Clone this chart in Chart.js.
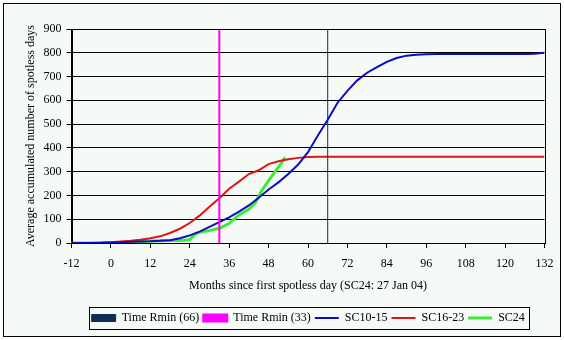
<!DOCTYPE html>
<html>
<head>
<meta charset="utf-8">
<script src="https://cdn.jsdelivr.net/npm/chart.js@4.4.0/dist/chart.umd.min.js"></script>
<style>
    body { margin: 0; background: #ffffff; }
    #wrap { width: 564px; height: 340px; }
</style>
</head>
<body>
<div id="wrap"><canvas id="myChart" width="564" height="340"></canvas></div>
<script>
// months since first spotless day
const mesesCiclo = [-12, -9, -6, -3, 0, 3, 6, 9, 12, 15, 18, 21, 24, 27, 30, 33, 36, 39, 42, 45, 48, 51, 54, 57, 60, 63, 66, 69, 72, 75, 78, 81, 84, 87, 90, 93, 96, 99, 102, 105, 108, 111, 114, 117, 120, 123, 126, 129, 132]
const dadosSC10_15 = [0, 0, 0, 1, 2, 3, 5, 6, 7, 9, 12, 20, 32, 48, 68, 88, 108, 132, 158, 190, 225, 255, 290, 330, 382, 452, 518, 590, 640, 684, 716, 740, 762, 778, 788, 792, 794, 795, 795, 795, 795, 795, 795, 795, 795, 795, 795, 796, 800]
const dadosSC16_23 = [0, 0, 0, 1, 3, 6, 9, 14, 20, 28, 42, 60, 84, 115, 152, 188, 228, 258, 290, 306, 332, 344, 352, 358, 362, 363, 363, 363, 363, 363, 363, 363, 363, 363, 363, 363, 363, 363, 363, 363, 363, 363, 363, 363, 363, 363, 363, 363, 363]

const mesesSC24 = [-12, -9, -6, -3, 0, 3, 6, 9, 12, 15, 18, 21, 24, 25, 26, 27, 30, 33, 36, 39, 42, 44, 46, 48, 50, 52, 53]
const dadosSC24 = [0, 0, 0, 0, 1, 2, 4, 6, 8, 9, 10, 11, 14, 28, 40, 45, 52, 62, 82, 118, 142, 170, 222, 262, 300, 338, 360]

const tempoRmin66 = 66
const tempoRmin33 = 33
const xTicks = [-12, 0, 12, 24, 36, 48, 60, 72, 84, 96, 108, 120, 132]
const yTicks = [0, 100, 200, 300, 400, 500, 600, 700, 800, 900]

function pontos(meses, valores) {
    return meses.map((m, i) => ({ x: m, y: valores[i] }))
}

const fundo = '#f5faf6'
const fonte = { family: "'Liberation Serif', 'Times New Roman', serif", size: 12 }

// fundo, borda externa, borda da area do grafico e caixa da legenda
const bordas = {
    id: 'bordas',
    afterLayout(chart) {
        // a legenda do original fica um pouco deslocada para a direita
        chart.legend.left += 26
        chart.legend.right += 26
    },
    beforeDraw(chart) {
        const c = chart.ctx
        c.save()
        c.fillStyle = fundo
        c.fillRect(3, 3, 558, 334)
        c.strokeStyle = '#000'
        c.lineWidth = 1
        c.strokeRect(3.5, 3.5, 557, 333)
        c.restore()
    },
    afterDraw(chart) {
        const c = chart.ctx
        const a = chart.chartArea
        c.save()
        c.strokeStyle = '#000'
        c.lineWidth = 1
        c.strokeRect(Math.round(a.left) + 0.5, Math.round(a.top) + 0.5, Math.round(a.right - a.left), Math.round(a.bottom - a.top))
        const hb = chart.legend.legendHitBoxes
        if (hb && hb.length) {
            const esq = Math.min(...hb.map(h => h.left))
            const dir = Math.max(...hb.map(h => h.left + h.width))
            const topo = Math.min(...hb.map(h => h.top))
            const alt = hb[0].height
            c.strokeRect(Math.round(esq - 3) + 0.5, Math.round(topo - 5) + 0.5, Math.round(dir - esq + 7), Math.round(alt + 10))
        }
        c.restore()
    }
}

const ctx = document.getElementById('myChart').getContext('2d')

const myChart = new Chart(ctx, {
    type: 'line',
    data: {
        datasets: [{
            label: 'Time Rmin (66)',
            data: [{ x: tempoRmin66, y: 0 }, { x: tempoRmin66, y: 900 }],
            borderColor: '#0f2d55',
            backgroundColor: '#0f2d55',
            borderWidth: 1,
            pointStyle: 'rect'
        }, {
            label: 'Time Rmin (33)',
            data: [{ x: tempoRmin33, y: 0 }, { x: tempoRmin33, y: 900 }],
            borderColor: '#ff00ff',
            backgroundColor: '#ff00ff',
            borderWidth: 2,
            pointStyle: 'rect'
        }, {
            label: 'SC10-15',
            data: pontos(mesesCiclo, dadosSC10_15),
            borderColor: '#0c0cc0',
            backgroundColor: '#0c0cc0',
            borderWidth: 2,
            pointStyle: 'line'
        }, {
            label: 'SC16-23',
            data: pontos(mesesCiclo, dadosSC16_23),
            borderColor: '#dd1515',
            backgroundColor: '#dd1515',
            borderWidth: 2,
            pointStyle: 'line'
        }, {
            label: 'SC24',
            data: pontos(mesesSC24, dadosSC24),
            borderColor: '#3cea3c',
            backgroundColor: '#3cea3c',
            borderWidth: 3,
            pointStyle: 'line'
        }]
    },
    options: {
        responsive: false,
        animation: false,
        elements: { point: { radius: 0 }, line: { tension: 0 } },
        layout: { padding: { top: 29, right: 19.5, bottom: 6, left: 20 } },
        plugins: {
            legend: {
                position: 'bottom',
                labels: {
                    usePointStyle: true,
                    pointStyleWidth: 24,
                    boxHeight: 7,
                    padding: 4,
                    color: '#000',
                    font: fonte
                }
            },
            tooltip: { enabled: false }
        },
        scales: {
            x: {
                type: 'linear',
                min: -12,
                max: 132,
                afterFit(scale) { scale.height = 65 },
                afterBuildTicks(scale) { scale.ticks = xTicks.map(v => ({ value: v })) },
                ticks: { color: '#000', font: fonte, padding: 9, maxRotation: 0 },
                grid: { drawOnChartArea: false, drawTicks: true, tickLength: 5, color: '#000' },
                border: { color: '#000' },
                title: {
                    display: true,
                    text: 'Months since first spotless day (SC24: 27 Jan 04)',
                    color: '#000',
                    font: fonte,
                    padding: { top: 4, bottom: 15 }
                }
            },
            y: {
                min: 0,
                max: 900,
                afterFit(scale) { scale.width = 51.5 },
                afterBuildTicks(scale) { scale.ticks = yTicks.map(v => ({ value: v })) },
                ticks: { color: '#000', font: fonte, padding: 5 },
                grid: { color: '#000', tickLength: 5 },
                border: { color: '#000' },
                title: {
                    display: true,
                    text: 'Average accumulated number of spotless days',
                    color: '#000',
                    font: fonte,
                    padding: { top: 4, bottom: 0 }
                }
            }
        }
    },
    plugins: [bordas]
})
</script>
</body>
</html>
